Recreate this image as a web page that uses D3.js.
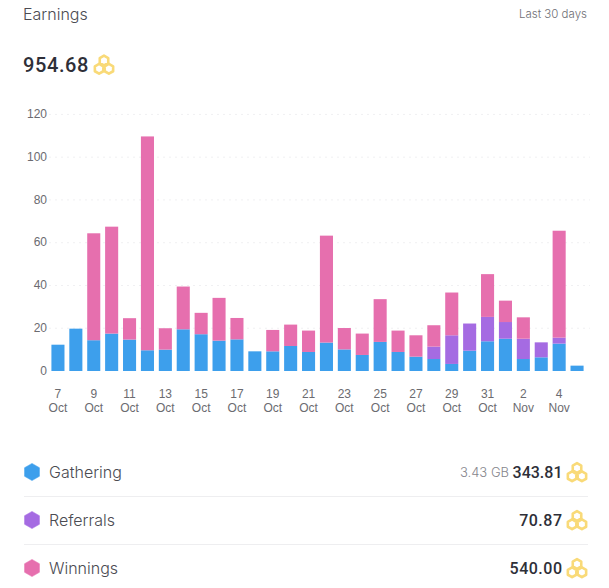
<!DOCTYPE html>
<html>
<head>
<meta charset="utf-8">
<script src="https://cdn.jsdelivr.net/npm/d3@7/dist/d3.min.js"></script>
<style>
html,body{margin:0;padding:0;background:#fff;overflow:hidden}
svg{display:block}
.axis path,.axis line{display:none}
.axis text{font-family:"Liberation Sans",Arial,sans-serif;font-size:12px;fill:#6b6b70}
</style>
</head>
<body>
<svg id="chart" width="609" height="588"></svg>
<script>
const days = ["7 Oct","8 Oct","9 Oct","10 Oct","11 Oct","12 Oct","13 Oct","14 Oct","15 Oct","16 Oct","17 Oct","18 Oct","19 Oct","20 Oct","21 Oct","22 Oct","23 Oct","24 Oct","25 Oct","26 Oct","27 Oct","28 Oct","29 Oct","30 Oct","31 Oct","1 Nov","2 Nov","3 Nov","4 Nov","5 Nov"];
const gathering = [12.3,19.8,14.4,17.5,14.7,9.7,10,19.5,17.2,14.2,14.8,9.2,9.2,11.7,8.9,13.3,10.1,7.5,13.6,8.9,6.7,5.6,3.3,9.5,13.9,15.1,5.6,6.4,12.8,2.5];
const referrals = [0,0,0,0,0,0,0,0,0,0,0,0,0,0,0,0,0,0,0,0,0,5.8,13.4,12.7,11.4,7.8,9.5,7,2.8,0];
const winnings = [0,0,50,50,10,100,10,20,10,20,10,0,10,10,10,50,10,10,20,10,10,10,20,0,20,10,10,0,50,0];
const yTicks = [0,20,40,60,80,100,120];
const seriesNames = ["Gathering","Referrals","Winnings"];
const seriesColors = ["#3d9fec","#a56be2","#e66fae"];
const seriesTotals = ["343.81","70.87","540.00"];
const totalEarnings = "954.68";
const gatheredVolume = "3.43 GB";

const svg = d3.select("#chart");
const uiFont = "Inter, 'Noto Sans', sans-serif";
const numFont = "Roboto, 'Noto Sans', sans-serif";

const rows = days.map((d,i) => ({day:d, Gathering:gathering[i], Referrals:referrals[i], Winnings:winnings[i]}));
const stacked = d3.stack().keys(seriesNames)(rows);

const x = d3.scaleBand().domain(days).range([49,586]).paddingInner(0.27).paddingOuter(0.135);
const y = d3.scaleLinear().domain([0,120]).range([371,114.4]);
const color = d3.scaleOrdinal(seriesNames, seriesColors);

// Horizontal guides
svg.append("g").selectAll("line").data(yTicks.filter(t => t > 0)).join("line")
  .attr("x1",49).attr("x2",590)
  .attr("y1",d => y(d)).attr("y2",d => y(d))
  .attr("stroke","#f0f0f2").attr("stroke-width",1).attr("stroke-dasharray","2 4");

// Stacked columns
svg.append("g").selectAll("g").data(stacked).join("g")
  .attr("fill",d => color(d.key))
  .selectAll("rect").data(d => d).join("rect")
  .attr("x",d => x(d.data.day))
  .attr("width",x.bandwidth())
  .attr("y",d => y(d[1]))
  .attr("height",d => y(d[0]) - y(d[1]));

// Axes
const yAxis = d3.axisLeft(y).tickValues(yTicks).tickSize(0).tickPadding(0);
const yg = svg.append("g").attr("class","axis").attr("transform","translate(47,0)").call(yAxis);
yg.selectAll("text").attr("dy","0.27em");

const xAxis = d3.axisBottom(x).tickValues(days.filter((d,i) => i % 2 === 0)).tickSize(0).tickFormat("");
const xg = svg.append("g").attr("class","axis").attr("transform","translate(0,370.6)").call(xAxis);
xg.selectAll(".tick").each(function(d){
  const parts = d.split(" ");
  const t = d3.select(this).select("text").attr("y",0).attr("dy",null).text(null).attr("text-anchor","middle");
  t.append("tspan").attr("x",0).attr("y",27).text(parts[0]);
  t.append("tspan").attr("x",0).attr("y",41).text(parts[1]);
});

// Pointy-top hexagon outline around (cx,cy)
function hexPath(cx,cy,r){
  const pts = d3.range(6).map(i => {
    const a = Math.PI/3*i - Math.PI/2;
    return [cx + r*Math.cos(a), cy + r*Math.sin(a)];
  });
  return d3.line().curve(d3.curveLinearClosed)(pts);
}

// Three-cell honeycomb token
function token(cx,cy){
  const g = svg.append("g").attr("fill","none").attr("stroke","#f9da78").attr("stroke-width",2.6).attr("stroke-linejoin","round");
  [[0,-4],[-4.9,4.3],[4.9,4.3]].forEach(o => g.append("path").attr("d",hexPath(cx+o[0],cy+o[1],4.9)));
}

// Header
svg.append("text").attr("x",23).attr("y",20).attr("font-family",uiFont).attr("font-size",16).attr("font-weight",300).attr("fill","#4b4b52").text("Earnings");
svg.append("text").attr("x",587).attr("y",18).attr("text-anchor","end").attr("font-family",uiFont).attr("font-size",11.5).attr("font-weight",300).attr("fill","#6f6f76").text("Last 30 days");
svg.append("text").attr("x",23).attr("y",72).attr("font-family",numFont).attr("font-size",20).attr("font-weight",500).attr("letter-spacing",0.6).attr("fill","#2e2f38").text(totalEarnings);
token(104,64.5);

// Legend rows
const rowY = [472,520,568];
seriesNames.forEach((name,i) => {
  const cy = rowY[i];
  svg.append("path").attr("d",hexPath(32,cy,8.6)).attr("fill",seriesColors[i]).attr("stroke",seriesColors[i]).attr("stroke-width",0.5).attr("stroke-linejoin","round");
  svg.append("text").attr("x",49).attr("y",cy+6).attr("font-family",uiFont).attr("font-size",16).attr("font-weight",300).attr("fill","#4b4b52").text(name);
  // The first total holds a narrow "1", so it is set without extra tracking
  svg.append("text").attr("x",562.5).attr("y",cy+6).attr("text-anchor","end").attr("font-family",numFont).attr("font-size",16).attr("font-weight",500).attr("letter-spacing",i === 0 ? 0 : 0.5).attr("fill","#2e2f38").text(seriesTotals[i]);
  token(577,cy);
  if (i < 2) svg.append("line").attr("x1",24).attr("x2",588).attr("y1",cy+24.5).attr("y2",cy+24.5).attr("stroke","#eeeef0");
});
svg.append("text").attr("x",509).attr("y",rowY[0]+5).attr("text-anchor","end").attr("font-family",uiFont).attr("font-size",13).attr("font-weight",300).attr("fill","#85858c").text(gatheredVolume);
</script>
</body>
</html>
